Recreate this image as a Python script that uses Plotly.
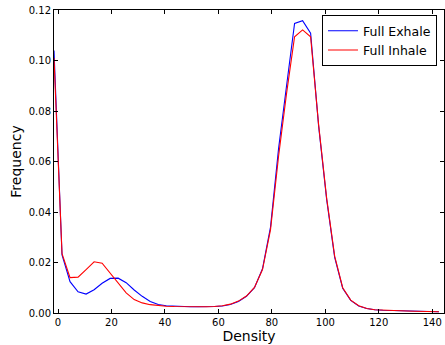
import plotly.graph_objects as go

density = [-1.5, 1.5, 4.5, 7.5, 10.5, 13.5, 16.5, 19.5, 22.5, 25.5, 28.5, 31.5,
           34.5, 37.5, 40.5, 43.5, 46.5, 49.5, 52.5, 55.5, 58.5, 61.5, 64.5, 67.5,
           70.5, 73.5, 76.5, 79.5, 82.5, 85.5, 88.5, 91.5, 94.5, 97.5, 100.5, 103.5,
           106.5, 109.5, 112.5, 115.5, 118.5, 121.5, 124.5, 127.5, 130.5, 133.5,
           136.5, 139.5, 142.5]

full_exhale = [0.104, 0.023, 0.0124, 0.0084, 0.0075, 0.0092, 0.0118, 0.0137, 0.0138,
               0.0120, 0.0091, 0.0066, 0.0046, 0.0034, 0.0029, 0.0027, 0.0025, 0.0025,
               0.0025, 0.0025, 0.0026, 0.0028, 0.0034, 0.0046, 0.0066, 0.0100, 0.0175,
               0.0340, 0.0650, 0.0900, 0.1147, 0.1158, 0.1108, 0.0740, 0.0450, 0.0220,
               0.0098, 0.0050, 0.0028, 0.0018, 0.0013, 0.0011, 0.0010, 0.0009, 0.0008,
               0.0007, 0.0006, 0.0006, 0.0005]

full_inhale = [0.101, 0.0235, 0.0140, 0.0142, 0.0172, 0.0203, 0.0197, 0.0157, 0.0118,
               0.0080, 0.0053, 0.0040, 0.0033, 0.0029, 0.0027, 0.0026, 0.0025, 0.0025,
               0.0025, 0.0025, 0.0026, 0.0029, 0.0035, 0.0047, 0.0067, 0.0101, 0.0172,
               0.0330, 0.0620, 0.0870, 0.1094, 0.1121, 0.1094, 0.0745, 0.0455, 0.0225,
               0.0100, 0.0051, 0.0029, 0.0018, 0.0013, 0.0011, 0.0010, 0.0009, 0.0008,
               0.0007, 0.0006, 0.0006, 0.0005]

x_ticks = [0, 20, 40, 60, 80, 100, 120, 140]
y_ticks = [0.00, 0.02, 0.04, 0.06, 0.08, 0.10, 0.12]
y_labels = ["0.00", "0.02", "0.04", "0.06", "0.08", "0.10", "0.12"]

fig = go.Figure()
fig.add_trace(go.Scatter(x=density, y=full_exhale, mode="lines", name="Full Exhale",
                         line=dict(color="#0000ff", width=1.1)))
fig.add_trace(go.Scatter(x=density, y=full_inhale, mode="lines", name="Full Inhale",
                         line=dict(color="#ff0000", width=1.1)))

axis_common = dict(showgrid=False, zeroline=False, showline=True, linecolor="black",
                   linewidth=1, mirror="ticks", ticks="inside", ticklen=4,
                   tickcolor="black", tickfont=dict(size=10, color="black"))

fig.update_layout(
    width=445, height=345,
    margin=dict(l=54, r=1, t=10, b=32),
    paper_bgcolor="white", plot_bgcolor="white",
    font=dict(family="DejaVu Sans", color="black"),
    xaxis=dict(range=[-1.5, 144.4], tickvals=x_ticks,
               title=dict(text="Density", font=dict(size=14), standoff=4),
               **axis_common),
    yaxis=dict(range=[0, 0.12], tickvals=y_ticks, ticktext=y_labels,
               title=dict(text="Frequency", font=dict(size=14), standoff=3),
               **axis_common),
    legend=dict(x=0.982, y=0.983, xanchor="right", yanchor="top",
                bordercolor="black", borderwidth=1, bgcolor="white",
                font=dict(size=12.5), tracegroupgap=0),
    showlegend=True,
)

fig.write_html("out.html", config={"displayModeBar": False},
               post_script="document.body.style.margin='0';document.body.style.overflow='hidden';")
